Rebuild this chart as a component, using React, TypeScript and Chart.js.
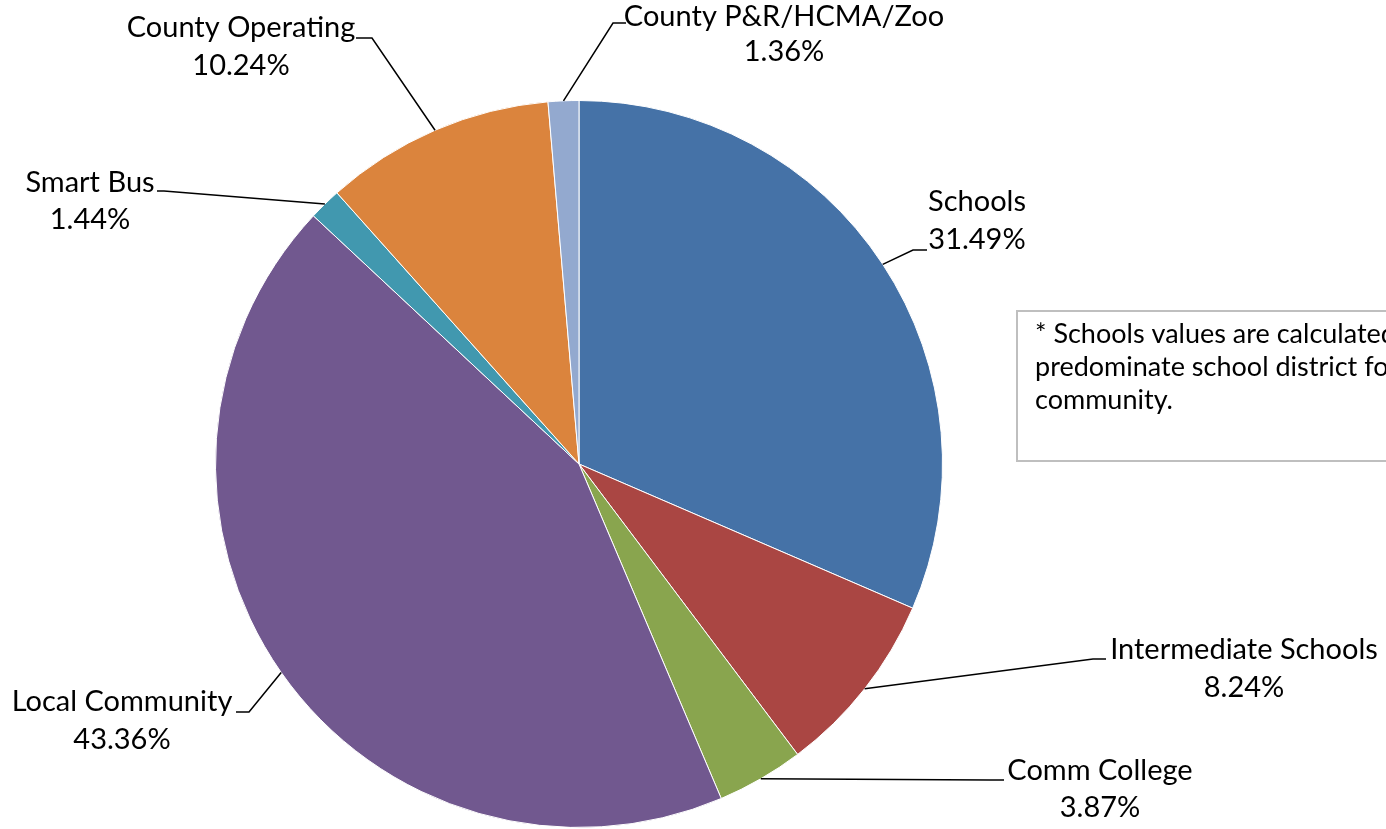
import React, { useEffect, useRef } from "react";
import { Chart, registerables } from "chart.js";

Chart.register(...registerables);

const categories = [
  "Schools",
  "Intermediate Schools",
  "Comm College",
  "Local Community",
  "Smart Bus",
  "County Operating",
  "County P&R/HCMA/Zoo",
];
const shares = [31.49, 8.24, 3.87, 43.36, 1.44, 10.24, 1.36];
const sliceColors = ["#4572A7", "#AA4643", "#89A54E", "#71588F", "#4198AF", "#DB843D", "#93A9CF"];

const noteLines = [
  "* Schools values are calculated using the",
  "predominate school district for the",
  "community.",
];

// label layout: text centre x, line1 y, line2 y, elbow point, text-side point
const labelLayout = [
  { cx: 977, y1: 202, y2: 240, ex: 913, ey: 250, tx: 927, ty: 250 },
  { cx: 1244, y1: 650, y2: 688, ex: 1093, ey: 659, tx: 1106, ty: 659 },
  { cx: 1100, y1: 771, y2: 808, ex: 990, ey: 780, tx: 1004, ty: 780 },
  { cx: 122, y1: 702, y2: 740, ex: 249, ey: 712, tx: 236, ty: 712 },
  { cx: 90, y1: 183, y2: 220, ex: 164, ey: 191, tx: 157, ty: 191 },
  { cx: 241, y1: 28, y2: 66, ex: 372, ey: 38, tx: 356, ty: 38 },
  { cx: 784, y1: 17, y2: 52, ex: 613, ey: 23, tx: 626, ty: 23 },
];

const FONT = "Lato, 'Open Sans', sans-serif";

const labelPlugin = {
  id: "pieLabels",
  afterDraw(chart: any) {
    const ctx = chart.ctx;
    const meta = chart.getDatasetMeta(0);
    ctx.save();
    // leader lines + labels
    meta.data.forEach((arc: any, i: number) => {
      const L = labelLayout[i];
      const p = arc.getProps(["x", "y", "startAngle", "endAngle", "outerRadius"], true);
      const mid = (p.startAngle + p.endAngle) / 2;
      const ax = p.x + Math.cos(mid) * p.outerRadius;
      const ay = p.y + Math.sin(mid) * p.outerRadius;
      ctx.strokeStyle = "#000";
      ctx.lineWidth = 1.5;
      ctx.beginPath();
      ctx.moveTo(ax, ay);
      ctx.lineTo(L.ex, L.ey);
      ctx.lineTo(L.tx, L.ty);
      ctx.stroke();
      ctx.fillStyle = "#000";
      ctx.font = `29px ${FONT}`;
      ctx.textAlign = "center";
      ctx.textBaseline = "middle";
      ctx.fillText(categories[i], L.cx, L.y1);
      ctx.fillText(shares[i].toFixed(2) + "%", L.cx, L.y2);
    });
    // note box
    ctx.strokeStyle = "#BFBFBF";
    ctx.lineWidth = 2;
    ctx.strokeRect(1017, 311, 400, 150);
    ctx.fillStyle = "#000";
    ctx.font = `27px ${FONT}`;
    ctx.textAlign = "left";
    ctx.textBaseline = "middle";
    noteLines.forEach((t, i) => ctx.fillText(t, 1035, 334 + i * 33));
    ctx.restore();
  },
};

export default function App() {
  const ref = useRef<HTMLCanvasElement>(null);
  useEffect(() => {
    document.body.style.margin = "0";
    const chart = new Chart(ref.current!, {
      type: "pie",
      data: {
        labels: categories,
        datasets: [
          {
            data: shares,
            backgroundColor: sliceColors,
            borderColor: "#FFFFFF",
            borderWidth: 1,
          },
        ],
      },
      options: {
        animation: false,
        responsive: false,
        devicePixelRatio: 1,
        layout: { padding: { left: 215, right: 443, top: 100, bottom: 1 } },
        plugins: {
          legend: { display: false },
          tooltip: { enabled: false },
          title: { display: false },
        },
      },
      plugins: [labelPlugin],
    });
    return () => chart.destroy();
  }, []);
  return (
    <div style={{ position: "fixed", left: 0, top: 0, width: 1386, height: 829, background: "#fff" }}>
      <canvas ref={ref} width={1386} height={829} />
    </div>
  );
}
